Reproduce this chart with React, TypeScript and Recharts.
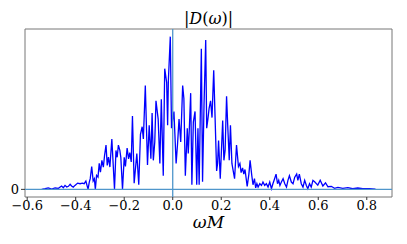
import React from 'react'
import { LineChart, Line, XAxis, YAxis, ReferenceLine, ReferenceArea } from 'recharts'

// ωM sample positions (peaks and troughs)
const omega = [
  -0.54, -0.526, -0.513, -0.499, -0.485, -0.471, -0.464, -0.458, -0.451, -0.444,
  -0.437, -0.43, -0.423, -0.417, -0.41, -0.403, -0.392, -0.382, -0.373, -0.365,
  -0.358, -0.349, -0.344, -0.34, -0.334, -0.328, -0.323, -0.319, -0.314, -0.308,
  -0.303, -0.298, -0.292, -0.286, -0.281, -0.275, -0.27, -0.265, -0.259, -0.251,
  -0.245, -0.24, -0.234, -0.229, -0.224, -0.218, -0.214, -0.207, -0.2, -0.195,
  -0.188, -0.182, -0.177, -0.171, -0.166, -0.159, -0.148, -0.14, -0.133, -0.126,
  -0.121, -0.113, -0.104, -0.097, -0.09, -0.085, -0.08, -0.074, -0.069, -0.06,
  -0.053, -0.047, -0.039, -0.033, -0.025, -0.021, -0.018, -0.01, -0.005, 0.005,
  0.014, 0.02, 0.026, 0.033, 0.041, 0.046, 0.052, 0.06, 0.064, 0.068,
  0.074, 0.079, 0.085, 0.092, 0.099, 0.104, 0.109, 0.118, 0.123, 0.129,
  0.136, 0.14, 0.145, 0.15, 0.156, 0.162, 0.169, 0.181, 0.185, 0.189,
  0.196, 0.206, 0.211, 0.216, 0.222, 0.227, 0.233, 0.238, 0.244, 0.249,
  0.255, 0.263, 0.271, 0.277, 0.282, 0.288, 0.293, 0.298, 0.307, 0.314,
  0.319, 0.326, 0.331, 0.337, 0.342, 0.347, 0.352, 0.359, 0.366, 0.372,
  0.379, 0.386, 0.393, 0.4, 0.407, 0.413, 0.42, 0.426, 0.432, 0.437,
  0.442, 0.448, 0.455, 0.462, 0.469, 0.475, 0.481, 0.489, 0.496, 0.503,
  0.511, 0.516, 0.522, 0.53, 0.537, 0.544, 0.551, 0.557, 0.564, 0.571,
  0.578, 0.585, 0.598, 0.608, 0.619, 0.63, 0.64, 0.654, 0.667, 0.681,
  0.701, 0.722, 0.742, 0.763, 0.783, 0.811, 0.836,
]

// |D(ω)|, normalised to the tallest peak
const amplitude = [
  0, 0.004, 0.009, 0.002, 0.009, 0.007, 0.015, 0.022, 0.011, 0.026,
  0.015, 0.02, 0.033, 0.022, 0.015, 0.026, 0.041, 0.037, 0.041, 0.037,
  0.054, 0, 0.048, 0.07, 0.15, 0.055, 0.07, 0, 0.092, 0.08,
  0.17, 0.113, 0.19, 0.146, 0.222, 0.29, 0.157, 0.211, 0.146, 0.33,
  0.15, 0, 0.255, 0.21, 0.29, 0.255, 0.21, 0, 0.21, 0.15,
  0.27, 0.2, 0.24, 0.18, 0.48, 0.04, 0.235, 0.03, 0.36, 0.41,
  0.33, 0.68, 0.16, 0.42, 0.2, 0.5, 0.19, 0.31, 0.58, 0.46,
  0.17, 0.59, 0.09, 0.79, 0.7, 0.42, 0.71, 1.0, 0.4, 0.51,
  0.17, 0.3, 0.46, 0.31, 0.68, 0.595, 0.09, 0.4, 0.235, 0.377,
  0.63, 0.03, 0.44, 0.51, 0.03, 0.4, 0.03, 0.92, 0.05, 0.55,
  0.978, 0.4, 0.46, 0.53, 0.58, 0.47, 0.78, 0.12, 0.17, 0.32,
  0.07, 0.45, 0.19, 0.255, 0.61, 0.41, 0.19, 0.42, 0.17, 0.124,
  0.07, 0.29, 0.15, 0.17, 0.11, 0.14, 0.1, 0.13, 0.02, 0.1,
  0.19, 0.09, 0.03, 0.07, 0.01, 0.037, 0.015, 0.037, 0.026, 0.048,
  0.026, 0.037, 0.015, 0.048, 0.004, 0.037, 0.07, 0.1, 0.037, 0.059,
  0.026, 0.048, 0.07, 0.037, 0.015, 0.059, 0.09, 0.048, 0.037, 0.08,
  0.1, 0.059, 0.1, 0.037, 0.015, 0.059, 0.026, 0.004, 0.037, 0.015,
  0.059, 0.05, 0.028, 0.06, 0.022, 0.043, 0.017, 0.02, 0.007, 0.013,
  0.007, 0.011, 0.004, 0.009, 0.004, 0.004, 0.002,
]

const xTicks = [-0.6, -0.4, -0.2, 0.0, 0.2, 0.4, 0.6, 0.8]
const yTicks = [0]

const X_DOMAIN: [number, number] = [-0.609, 0.904]
const Y_DOMAIN: [number, number] = [-0.05, 1.05]

const serif = 'DejaVu Serif, Liberation Serif, serif'
const refBlue = '#4f96cb'

const fmtTick = (v: number) => (v < 0 ? '\u2212' + Math.abs(v).toFixed(1) : v.toFixed(1))

export default function App() {
  const data = omega.map((w, i) => ({ w, amp: amplitude[i] }))

  return (
    <div style={{ position: 'absolute', left: 0, top: 0, width: 407, height: 244, background: '#fff' }}>
      <div
        style={{
          position: 'absolute',
          left: 0,
          width: 417,
          top: 10,
          textAlign: 'center',
          fontFamily: serif,
          fontSize: 16,
          lineHeight: '18px',
        }}
      >
        |<i>D</i>(<i>ω</i>)|
      </div>
      <LineChart
        width={407}
        height={244}
        data={data}
        margin={{ top: 29, right: 15, bottom: 0, left: 5 }}
      >
        <XAxis
          dataKey="w"
          type="number"
          domain={X_DOMAIN}
          ticks={xTicks}
          tickFormatter={fmtTick}
          allowDataOverflow
          height={47}
          axisLine={false}
          tickLine={{ stroke: '#333' }}
          tickSize={3}
          tickMargin={1}
          tick={{ fill: '#000', fontSize: 13, fontFamily: serif }}
        />
        <YAxis
          type="number"
          domain={Y_DOMAIN}
          ticks={yTicks}
          allowDataOverflow
          width={20}
          axisLine={false}
          tickLine={{ stroke: '#333' }}
          tickSize={4}
          tick={{ fill: '#000', fontSize: 13, fontFamily: serif }}
        />
        <ReferenceArea
          x1={X_DOMAIN[0]}
          x2={X_DOMAIN[1]}
          y1={Y_DOMAIN[0]}
          y2={Y_DOMAIN[1]}
          fill="none"
          stroke="#777"
          strokeWidth={1}
        />
        <Line
          dataKey="amp"
          type="linear"
          stroke="#0000ff"
          strokeWidth={1.3}
          dot={false}
          isAnimationActive={false}
        />
        <ReferenceLine y={0} stroke={refBlue} strokeWidth={1.3} />
        <ReferenceLine x={0} stroke={refBlue} strokeWidth={1.3} />
      </LineChart>
      <div
        style={{
          position: 'absolute',
          left: 0,
          width: 417,
          top: 212,
          textAlign: 'center',
          fontFamily: serif,
          fontSize: 17,
          fontStyle: 'italic',
          lineHeight: '20px',
        }}
      >
        ωM
      </div>
    </div>
  )
}
